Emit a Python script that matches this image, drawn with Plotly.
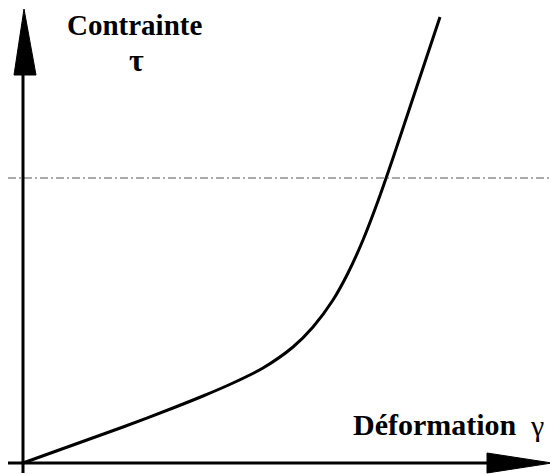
import plotly.graph_objects as go

# Read-off data (arbitrary units: strain gamma, stress tau)
gamma = [0.00, 0.50, 1.00, 1.50, 1.80, 2.10, 2.40, 2.70, 2.90, 3.10, 3.25, 3.40, 3.55, 3.70, 3.90, 4.17]
tau   = [0.00, 0.18, 0.36, 0.55, 0.67, 0.80, 0.95, 1.16, 1.36, 1.63, 1.90, 2.23, 2.62, 3.05, 3.65, 4.46]
tau_limit = 2.85

x_label = "Déformation"
x_symbol = "γ"
y_label = "Contrainte"
y_symbol = "τ"

# Axis extents (page body has an 8px default margin, so the plot starts at window px 8)
X_MIN, X_MAX = -0.15, 5.35
Y_MIN, Y_MAX = -0.11, 4.55

FONT = "Liberation Serif, Times New Roman, serif"

fig = go.Figure()
fig.add_trace(go.Scatter(
    x=gamma, y=tau, mode="lines",
    line=dict(color="black", width=3, shape="spline", smoothing=0.8),
    hoverinfo="skip", showlegend=False,
))

shapes = []
# dashed limit line
shapes.append(dict(type="line", xref="x", yref="y", x0=X_MIN, x1=X_MAX, y0=tau_limit, y1=tau_limit,
                   line=dict(color="#555555", width=1, dash="8px,3px,2px,3px")))
# vertical axis line
shapes.append(dict(type="line", xref="x", yref="y", x0=0, x1=0, y0=-0.10, y1=3.90,
                   line=dict(color="black", width=3)))
# vertical arrow head
shapes.append(dict(type="path", xref="x", yref="y",
                   path="M -0.09,3.88 L 0.13,3.88 L 0.01,4.54 Z",
                   fillcolor="black", line=dict(color="black", width=1)))
# horizontal axis line
shapes.append(dict(type="line", xref="x", yref="y", x0=X_MIN, x1=4.66, y0=0, y1=0,
                   line=dict(color="black", width=3)))
# horizontal arrow head
shapes.append(dict(type="path", xref="x", yref="y",
                   path="M 4.64,0.10 L 4.64,-0.10 L 5.29,0.0 Z",
                   fillcolor="black", line=dict(color="black", width=1)))

annotations = [
    dict(x=1.11, y=4.38, xref="x", yref="y", text=f"<b>{y_label}</b>", showarrow=False,
         font=dict(family=FONT, size=29, color="black"), xanchor="center", yanchor="middle"),
    dict(x=1.13, y=4.03, xref="x", yref="y", text=f"<b>{y_symbol}</b>", showarrow=False,
         font=dict(family=FONT, size=32, color="black"), xanchor="center", yanchor="middle"),
    dict(x=4.12, y=0.39, xref="x", yref="y", text=f"<b>{x_label}</b>", showarrow=False,
         font=dict(family=FONT, size=30, color="black"), xanchor="center", yanchor="middle"),
    dict(x=5.14, y=0.38, xref="x", yref="y", text=x_symbol, showarrow=False,
         font=dict(family=FONT, size=30, color="black"), xanchor="center", yanchor="middle"),
]

fig.update_layout(
    width=550, height=466, autosize=False,
    margin=dict(l=0, r=0, t=0, b=0),
    paper_bgcolor="white", plot_bgcolor="white",
    xaxis=dict(range=[X_MIN, X_MAX], visible=False, fixedrange=True),
    yaxis=dict(range=[Y_MIN, Y_MAX], visible=False, fixedrange=True),
    shapes=shapes, annotations=annotations,
)

fig.write_html("out.html")
